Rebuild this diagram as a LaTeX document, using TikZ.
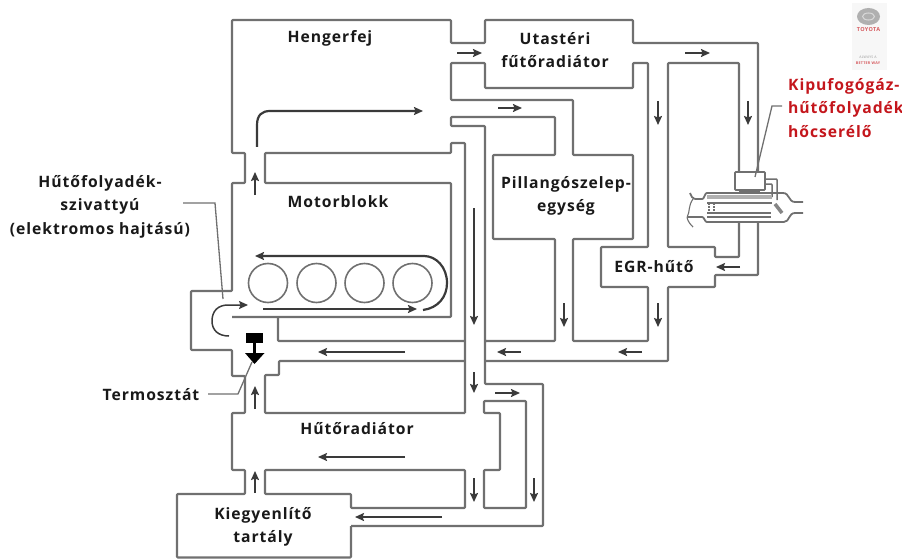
\documentclass[tikz,border=0pt]{standalone}
\usepackage{fontspec}
\setmainfont{Open Sans}[LetterSpace=6]
\usetikzlibrary{arrows.meta}
\definecolor{pipegray}{HTML}{707070}
\definecolor{arrowdark}{HTML}{3A3A3A}
\definecolor{labelred}{HTML}{C4161C}
\definecolor{logogray}{HTML}{B0B0B0}
\tikzset{
  pipe/.style={draw=pipegray,line width=2.1pt,line join=round,rounded corners=0.8pt},
  flow/.style={draw=arrowdark,line width=1.7pt,-{Stealth[length=9pt,width=8pt,inset=1.5pt]}},
  leader/.style={draw=pipegray,line width=1.3pt},
  lbl/.style={font=\bfseries\fontsize{15.7}{23.4}\selectfont,text=black!90,align=center,inner sep=0pt},
  redlbl/.style={lbl,text=labelred,align=left,anchor=west},
  cyl/.style={draw=pipegray,line width=1.6pt}
}
\begin{document}
\begin{tikzpicture}[x=1pt,y=-1pt]
  \useasboundingbox (0,0) rectangle (902,559);

  % main cooling channel, outer wall
  \draw[pipe] (351,526) -- (543,526) -- (543,384) -- (485,384) -- (485,126) -- (451,126) -- (451,117)
    -- (555,117) -- (555,155) -- (493,155) -- (493,239) -- (555,239) -- (555,341) -- (485,341);
  \draw[pipe] (485,361) -- (668,361) -- (668,287) -- (715,287) -- (715,275) -- (758,275) -- (758,222);
  \draw[pipe] (758,172) -- (758,43) -- (633,43) -- (633,20) -- (485,20) -- (485,43) -- (451,43) -- (451,20)
    -- (232,20) -- (232,153) -- (245,153) -- (245,183) -- (232,183) -- (232,291) -- (191,291) -- (191,350)
    -- (232,350) -- (232,376) -- (245,376) -- (245,413) -- (232,413) -- (232,470) -- (245,470) -- (245,494)
    -- (177,494) -- (177,557.5) -- (351,557.5) -- (351,526);

  % cabin heater and throttle loop
  \draw[pipe] (451,100) -- (573,100) -- (573,155) -- (633,155) -- (633,239) -- (573,239) -- (573,341)
    -- (648,341) -- (648,287) -- (601,287) -- (601,247) -- (648,247) -- (648,63) -- (633,63) -- (633,88)
    -- (485,88) -- (485,63) -- (451,63) -- cycle;

  % exhaust side loop
  \draw[pipe] (739,172) -- (739,63) -- (668,63) -- (668,247) -- (715,247) -- (715,257) -- (739,257) -- (739,222);

  % engine block wall
  \draw[pipe] (465,413) -- (465,143) -- (451,143) -- (451,153) -- (265,153) -- (265,183) -- (451,183)
    -- (451,317) -- (232,317);
  \draw[pipe] (278,317) -- (278,341) -- (465,341);
  \draw[pipe] (465,361) -- (279,361) -- (279,375) -- (265,375) -- (265,413) -- (465,413);

  % radiator parts
  \draw[pipe] (265,470) -- (265,494) -- (351,494) -- (351,508) -- (465,508) -- (465,470) -- cycle;
  \draw[pipe] (484,401) -- (526,401) -- (526,508) -- (484,508) -- (484,470) -- (500,470) -- (500,413)
    -- (484,413) -- cycle;

  % cylinders
  \foreach \cx in {268,316.5,364.5,412.5}
    \draw[cyl] (\cx,283) circle (19.5);

  % exhaust gas heat exchanger
  \draw[pipe,line width=1.8pt] (735,172) rectangle (765,190);
  \draw[pipe,line width=1.5pt] (765,179) -- (777,179) -- (777,200);
  \draw[pipe,line width=1.5pt] (765,184) -- (772,184) -- (772,197);
  \draw[pipe,line width=3.5pt,draw=pipegray!85] (775,204) -- (782,213);
  \fill[pipegray] (739,190) rectangle (760,193);
  \draw[pipe,line width=1.8pt] (690,193) .. controls (692,197) and (692,198) .. (695,199) -- (703,199)
    -- (706,193) -- (782,193) .. controls (790,193) and (788,202) .. (796,202) -- (803,202);
  \draw[pipe,line width=1.8pt] (687,217) -- (703,217) -- (706,222) -- (783,222)
    .. controls (790,222) and (788,213) .. (796,213) -- (803,213);
  \draw[pipe,line width=1.1pt] (693,199) .. controls (688,206) and (690,212) .. (687,217)
    .. controls (688,222) and (691,225) .. (693,227);
  \draw[pipe,line width=4.5pt,draw=pipegray!55,rounded corners=0pt] (707,197) -- (772,197);
  \draw[pipe,line width=1.2pt] (707,203) -- (772,203);
  \draw[pipe,line width=1.2pt] (707,213) -- (771,213);
  \draw[pipe,line width=1.2pt] (707,217) -- (771,217);
  \draw[pipe,line width=1.1pt,dashed,dash pattern=on 1.5pt off 1.5pt] (709,203) -- (709,213);
  \draw[pipe,line width=1.1pt,dashed,dash pattern=on 1.5pt off 1.5pt] (714,203) -- (714,213);

  % flow direction arrows, straight ones
  \draw[flow] (457,53) -- (482,53);
  \draw[flow] (498,108) -- (522,108);
  \draw[flow] (685,53) -- (710,53);
  \draw[flow] (658,101) -- (658,125);
  \draw[flow] (748,101) -- (748,125);
  \draw[flow] (740,267) -- (716,267);
  \draw[flow] (255,195) -- (255,172);
  \draw[flow] (474,208) -- (474,325);
  \draw[flow] (474,372) -- (474,393);
  \draw[flow] (474,478) -- (474,502);
  \draw[flow] (495,393) -- (520,393);
  \draw[flow] (534,478) -- (534,502);
  \draw[flow] (521,352) -- (497,352);
  \draw[flow] (642,352) -- (618,352);
  \draw[flow] (564,303) -- (564,327);
  \draw[flow] (658,303) -- (658,327);
  \draw[flow] (405,352) -- (318,352);
  \draw[flow] (405,457) -- (318,457);
  \draw[flow] (442,517) -- (355,517);
  \draw[flow] (255,409) -- (255,386);
  \draw[flow] (255,493) -- (255,471);
  \draw[flow,line width=2.4pt] (263,309) -- (417,309);

  % curved arrows
  \draw[flow,line width=2.2pt] (257,147) -- (257,125) .. controls (257,115) and (262,111) .. (270,111) -- (423,111);
  \draw[flow,line width=2.2pt] (423,310) .. controls (438,308) and (447,297) .. (447,283)
    .. controls (447,267) and (436,256) .. (424,256) -- (255,256);
  \draw[flow,line width=1.5pt] (229,336) .. controls (218,336) and (212,330) .. (212,321)
    .. controls (212,311) and (218,305) .. (228,305) -- (248,305);

  % thermostat
  \fill[black] (246,333) rectangle (263,343);
  \draw[black,line width=3pt] (254.5,343) -- (254.5,355);
  \fill[black] (245,353) -- (264.5,353) -- (254.5,364) -- cycle;

  % leader lines
  \draw[leader] (183,203) -- (215,203) -- (223,299);
  \draw[leader] (208,394) -- (238,394) -- (252,362);
  \draw[leader] (782,106) -- (772,106) -- (755,177);

  % logo
  \fill[black!3] (852,3) rectangle (887,70);
  \fill[logogray] (868.5,16.5) ellipse (11.5 and 8.5);
  \draw[black!15,line width=1pt] (868.5,16.5) ellipse (6 and 3.5);
  \node[font=\bfseries\fontsize{5.5}{5.5}\selectfont,text=labelred!70,inner sep=0pt] (logoname) at (868.5,30) {TOYOTA};
  \node[font=\fontsize{3.5}{3.5}\selectfont,text=black!40,inner sep=0pt] (logoline) at (868,57) {ALWAYS A};
  \node[font=\bfseries\fontsize{3.7}{3.7}\selectfont,text=labelred!70,inner sep=0pt] (logobetter) at (868,63) {BETTER WAY};

  % labels
  \node[lbl] (hengerfej) at (330,38) {Hengerfej};
  \node[lbl] (utasteri) at (555,50) {Utastéri\\fűtőradiátor};
  \node[lbl] (motorblokk) at (338,202) {Motorblokk};
  \node[lbl] (pillango) at (566,196) {Pillangószelep-\\egység};
  \node[lbl] (egr) at (654,267) {EGR-hűtő};
  \node[lbl] (kiegyenlito) at (263,527) {Kiegyenlítő\\tartály};
  \node[lbl] (radiator) at (357,429) {Hűtőradiátor};
  \node[lbl] (termosztat) at (151,395) {Termosztát};
  \node[lbl] (szivattyu) at (100,206.5) {Hűtőfolyadék-\\szivattyú\\(elektromos hajtású)};
  \node[redlbl] (kipufogo) at (788,108) {Kipufogógáz-\\hűtőfolyadék\\hőcserélő};
\end{tikzpicture}
\end{document}
